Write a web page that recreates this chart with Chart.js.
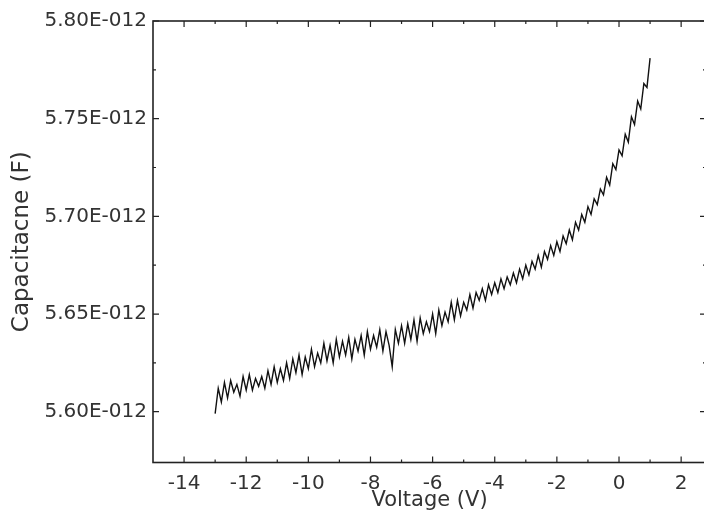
<!DOCTYPE html>
<html>
<head>
<meta charset="utf-8">
<script src="https://cdn.jsdelivr.net/npm/chart.js@4.4.1/dist/chart.umd.min.js"></script>
<style>
  html, body { margin: 0; padding: 0; background: #fff; overflow: hidden; }
  #wrap { width: 712px; height: 522px; }
</style>
</head>
<body>
<div id="wrap"><canvas id="chartCV" width="712" height="522"></canvas></div>
<script>
// voltage sweep (V)
const voltage = [
  -13.0, -12.9, -12.8, -12.7, -12.6, -12.5, -12.4, -12.3, -12.2, -12.1,
  -12.0, -11.9, -11.8, -11.7, -11.6, -11.5, -11.4, -11.3, -11.2, -11.1,
  -11.0, -10.9, -10.8, -10.7, -10.6, -10.5, -10.4, -10.3, -10.2, -10.1,
  -10.0, -9.9, -9.8, -9.7, -9.6, -9.5, -9.4, -9.3, -9.2, -9.1,
  -9.0, -8.9, -8.8, -8.7, -8.6, -8.5, -8.4, -8.3, -8.2, -8.1,
  -8.0, -7.9, -7.8, -7.7, -7.6, -7.5, -7.4, -7.3, -7.2, -7.1,
  -7.0, -6.9, -6.8, -6.7, -6.6, -6.5, -6.4, -6.3, -6.2, -6.1,
  -6.0, -5.9, -5.8, -5.7, -5.6, -5.5, -5.4, -5.3, -5.2, -5.1,
  -5.0, -4.9, -4.8, -4.7, -4.6, -4.5, -4.4, -4.3, -4.2, -4.1,
  -4.0, -3.9, -3.8, -3.7, -3.6, -3.5, -3.4, -3.3, -3.2, -3.1,
  -3.0, -2.9, -2.8, -2.7, -2.6, -2.5, -2.4, -2.3, -2.2, -2.1,
  -2.0, -1.9, -1.8, -1.7, -1.6, -1.5, -1.4, -1.3, -1.2, -1.1,
  -1.0, -0.9, -0.8, -0.7, -0.6, -0.5, -0.4, -0.3, -0.2, -0.1,
  0.0, 0.1, 0.2, 0.3, 0.4, 0.5, 0.6, 0.7, 0.8, 0.9,
  1.0
];

// capacitance, in units of 1E-012 F
const capacitance = [
  5.599, 5.612, 5.605, 5.615, 5.607, 5.616, 5.610, 5.614, 5.608, 5.618,
  5.611, 5.619, 5.611, 5.617, 5.613, 5.618, 5.612, 5.621, 5.614, 5.623,
  5.615, 5.622, 5.616, 5.625, 5.617, 5.627, 5.620, 5.629, 5.619, 5.628,
  5.622, 5.632, 5.623, 5.630, 5.625, 5.635, 5.626, 5.634, 5.625, 5.637,
  5.628, 5.636, 5.629, 5.638, 5.627, 5.637, 5.631, 5.639, 5.629, 5.641,
  5.632, 5.639, 5.633, 5.642, 5.631, 5.641, 5.634, 5.623, 5.642, 5.635,
  5.644, 5.635, 5.645, 5.637, 5.647, 5.636, 5.648, 5.640, 5.646, 5.641,
  5.650, 5.640, 5.652, 5.644, 5.651, 5.646, 5.656, 5.647, 5.657, 5.649,
  5.656, 5.652, 5.660, 5.653, 5.661, 5.657, 5.663, 5.657, 5.665, 5.660,
  5.666, 5.661, 5.668, 5.663, 5.669, 5.665, 5.671, 5.666, 5.673, 5.668,
  5.675, 5.670, 5.677, 5.673, 5.680, 5.674, 5.682, 5.678, 5.685, 5.680,
  5.687, 5.682, 5.690, 5.686, 5.693, 5.688, 5.697, 5.693, 5.701, 5.697,
  5.705, 5.701, 5.709, 5.706, 5.714, 5.711, 5.720, 5.716, 5.727, 5.724,
  5.734, 5.731, 5.742, 5.738, 5.751, 5.747, 5.759, 5.755, 5.768, 5.766,
  5.781
];

const xTicks = [-14, -12, -10, -8, -6, -4, -2, 0, 2];
const xMinor = [-13, -11, -9, -7, -5, -3, -1, 1];
const yTicks = [5.60, 5.65, 5.70, 5.75, 5.80];
const yMinor = [5.625, 5.675, 5.725, 5.775];

const FONT = "'DejaVu Sans', sans-serif";

// Origin style frame with inward ticks on all four sides
const frameTicks = {
  id: 'frameTicks',
  afterDraw(chart) {
    const { ctx, chartArea: a, scales: { x, y } } = chart;
    ctx.save();
    ctx.strokeStyle = '#222';
    ctx.lineWidth = 1.6;
    ctx.strokeRect(a.left, a.top, a.right - a.left, a.bottom - a.top);
    ctx.lineWidth = 1.2;
    const vTick = (v, len) => {
      const px = x.getPixelForValue(v);
      ctx.beginPath();
      ctx.moveTo(px, a.bottom); ctx.lineTo(px, a.bottom - len);
      ctx.moveTo(px, a.top); ctx.lineTo(px, a.top + len);
      ctx.stroke();
    };
    const hTick = (v, len) => {
      const py = y.getPixelForValue(v);
      ctx.beginPath();
      ctx.moveTo(a.left, py); ctx.lineTo(a.left + len, py);
      ctx.moveTo(a.right, py); ctx.lineTo(a.right - len, py);
      ctx.stroke();
    };
    xTicks.forEach(v => vTick(v, 6));
    xMinor.forEach(v => vTick(v, 3));
    yTicks.forEach(v => hTick(v, 6));
    yMinor.forEach(v => hTick(v, 3));
    ctx.restore();
  }
};

const ctx = document.getElementById('chartCV').getContext('2d');

new Chart(ctx, {
  type: 'line',
  data: {
    datasets: [{
      data: voltage.map((v, i) => ({ x: v, y: capacitance[i] })),
      borderColor: '#111',
      borderWidth: 1.4,
      pointRadius: 0,
      tension: 0,
      fill: false
    }]
  },
  options: {
    responsive: false,
    animation: false,
    layout: { padding: { top: 21, right: 6, left: 0, bottom: 0 } },
    plugins: {
      legend: { display: false },
      tooltip: { enabled: false }
    },
    scales: {
      x: {
        type: 'linear',
        min: -15,
        max: 2.8,
        afterBuildTicks: s => { s.ticks = xTicks.map(v => ({ value: v })); },
        afterFit: s => { s.height = 59.5; },
        grid: { display: false, drawTicks: false },
        border: { display: false },
        ticks: {
          padding: 9,
          color: '#333',
          font: { family: FONT, size: 20 },
          maxRotation: 0,
          callback: v => String(v)
        },
        title: {
          display: true,
          text: 'Voltage (V)',
          color: '#333',
          font: { family: FONT, size: 21 },
          padding: { top: 0, bottom: 9 }
        }
      },
      y: {
        min: 5.574,
        max: 5.80,
        afterBuildTicks: s => { s.ticks = yTicks.map(v => ({ value: v })); },
        afterFit: s => { s.width = 153; },
        grid: { display: false, drawTicks: false },
        border: { display: false },
        ticks: {
          padding: 6,
          color: '#333',
          font: { family: FONT, size: 20 },
          callback: v => Number(v).toFixed(2) + 'E-012'
        },
        title: {
          display: true,
          text: 'Capacitacne (F)',
          color: '#333',
          font: { family: FONT, size: 23 },
          padding: { top: 8, bottom: 0 }
        }
      }
    }
  },
  plugins: [frameTicks]
});
</script>
</body>
</html>
